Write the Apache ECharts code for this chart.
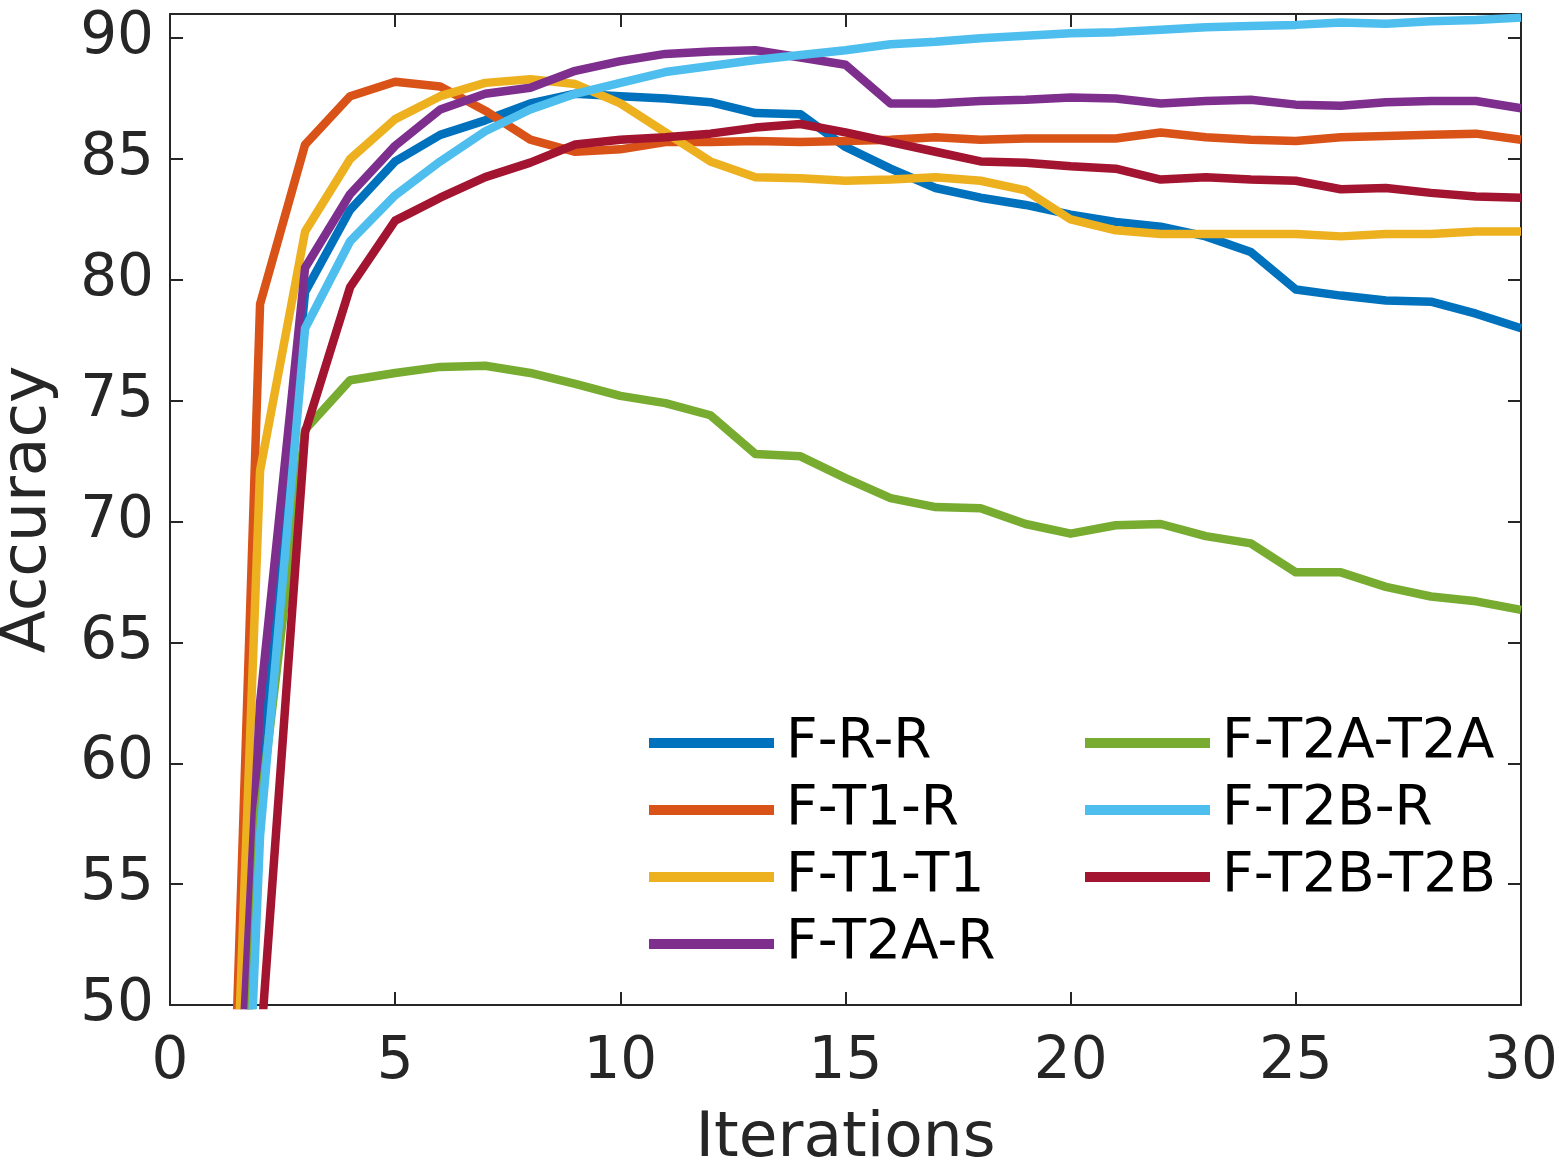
<!DOCTYPE html>
<html>
<head>
<meta charset="utf-8">
<title>Accuracy vs Iterations</title>
<script src="https://cdn.jsdelivr.net/npm/echarts@6/dist/echarts.min.js"></script>
<style>
  html, body { margin: 0; padding: 0; background: #fff; }
  #chart { width: 1559px; height: 1160px; }
</style>
</head>
<body>
<div id="chart"></div>
<script>
// iterations 1..30
const iterations = [1, 2, 3, 4, 5, 6, 7, 8, 9, 10, 11, 12, 13, 14, 15, 16, 17, 18, 19, 20, 21, 22, 23, 24, 25, 26, 27, 28, 29, 30];

// accuracy per method
const fRR      = [20, 60, 79.5, 82.9, 84.9, 86.0, 86.6, 87.3, 87.7, 87.6, 87.5, 87.35, 86.9, 86.85, 85.5, 84.6, 83.8, 83.4, 83.1, 82.7, 82.4, 82.2, 81.8, 81.15, 79.6, 79.35, 79.15, 79.1, 78.6, 78.0];
const fT1R     = [21.6, 79.0, 85.6, 87.6, 88.2, 88.0, 87.0, 85.8, 85.3, 85.4, 85.7, 85.7, 85.75, 85.7, 85.75, 85.8, 85.9, 85.8, 85.85, 85.85, 85.85, 86.1, 85.9, 85.8, 85.75, 85.9, 85.95, 86.0, 86.05, 85.8];
const fT1T1    = [22.4, 72.1, 82.0, 85.0, 86.65, 87.6, 88.15, 88.3, 88.1, 87.3, 86.1, 84.9, 84.25, 84.2, 84.1, 84.15, 84.25, 84.1, 83.7, 82.5, 82.05, 81.9, 81.9, 81.9, 81.9, 81.8, 81.9, 81.9, 82.0, 82.0];
const fT2AR    = [25, 62.5, 80.5, 83.55, 85.55, 87.05, 87.7, 87.95, 88.65, 89.05, 89.35, 89.45, 89.5, 89.2, 88.9, 87.3, 87.3, 87.4, 87.45, 87.55, 87.5, 87.3, 87.4, 87.45, 87.25, 87.2, 87.35, 87.4, 87.4, 87.1];
const fT2AT2A  = [15, 58, 73.8, 75.85, 76.15, 76.4, 76.45, 76.15, 75.7, 75.2, 74.9, 74.4, 72.8, 72.7, 71.8, 70.97, 70.6, 70.55, 69.9, 69.5, 69.85, 69.9, 69.4, 69.1, 67.9, 67.9, 67.3, 66.9, 66.7, 66.35];
const fT2BR    = [13, 57, 78.0, 81.6, 83.5, 84.9, 86.15, 87.05, 87.7, 88.15, 88.6, 88.85, 89.1, 89.3, 89.5, 89.75, 89.85, 90.0, 90.1, 90.2, 90.25, 90.35, 90.45, 90.5, 90.55, 90.65, 90.6, 90.7, 90.75, 90.85];
const fT2BT2B  = [15, 48, 73.7, 79.7, 82.45, 83.4, 84.25, 84.85, 85.6, 85.8, 85.9, 86.05, 86.3, 86.45, 86.1, 85.7, 85.3, 84.9, 84.85, 84.7, 84.6, 84.15, 84.25, 84.15, 84.1, 83.75, 83.8, 83.6, 83.45, 83.4];

const seriesNames = ['F-R-R', 'F-T1-R', 'F-T1-T1', 'F-T2A-R', 'F-T2A-T2A', 'F-T2B-R', 'F-T2B-T2B'];
const seriesValues = [fRR, fT1R, fT1T1, fT2AR, fT2AT2A, fT2BR, fT2BT2B];
const seriesColors = ['#0072BD', '#D95319', '#EDB120', '#7E2F8E', '#77AC30', '#4DBEEE', '#A2142F'];

const xTicks = [0, 5, 10, 15, 20, 25, 30];
const yTicks = [50, 55, 60, 65, 70, 75, 80, 85, 90];

const FONT = 'DejaVu Sans';
const AXIS_COLOR = '#262626';

const chart = echarts.init(document.getElementById('chart'));

function makeAxis(extra) {
    return Object.assign({
        type: 'value',
        axisLine: { show: true, onZero: false, lineStyle: { color: AXIS_COLOR, width: 2 } },
        axisTick: { show: true, inside: true, length: 13, lineStyle: { color: AXIS_COLOR, width: 2 } },
        splitLine: { show: false },
        axisLabel: { show: false }
    }, extra);
}

const legendText = { color: '#000', fontFamily: FONT, fontSize: 55, lineHeight: 60, padding: [0, 0, 0, 7] };

const option = {
    animation: false,
    backgroundColor: '#fff',
    grid: { left: 170, right: 38, top: 14, bottom: 155, containLabel: false, outerBoundsMode: 'none' },
    xAxis: [
        makeAxis({
            position: 'bottom',
            min: xTicks[0], max: xTicks[xTicks.length - 1], interval: 5,
            axisLabel: { show: true, color: AXIS_COLOR, fontFamily: FONT, fontSize: 58, margin: 29 },
            name: 'Iterations', nameLocation: 'middle', nameGap: 103,
            nameTextStyle: { color: AXIS_COLOR, fontFamily: FONT, fontSize: 63 }
        }),
        makeAxis({ position: 'top', min: xTicks[0], max: xTicks[xTicks.length - 1], interval: 5 })
    ],
    yAxis: [
        makeAxis({
            position: 'left',
            min: yTicks[0], max: 91, interval: 5,
            axisLabel: {
                show: true, color: AXIS_COLOR, fontFamily: FONT, fontSize: 58, margin: 16,
                formatter: function (v) { return yTicks.indexOf(v) >= 0 ? String(v) : ''; }
            },
            name: 'Accuracy', nameLocation: 'middle', nameGap: 110,
            nameTextStyle: { color: AXIS_COLOR, fontFamily: FONT, fontSize: 63 }
        }),
        makeAxis({ position: 'right', min: yTicks[0], max: 91, interval: 5 })
    ],
    legend: [
        {
            data: seriesNames.slice(0, 4),
            orient: 'vertical', left: 649, top: 713, padding: 0,
            icon: 'rect', itemWidth: 125, itemHeight: 10, itemGap: 7,
            textStyle: legendText
        },
        {
            data: seriesNames.slice(4),
            orient: 'vertical', left: 1085, top: 713, padding: 0,
            icon: 'rect', itemWidth: 125, itemHeight: 10, itemGap: 7,
            textStyle: legendText
        }
    ],
    series: seriesNames.map(function (name, i) {
        return {
            name: name,
            type: 'line',
            data: iterations.map(function (it, k) { return [it, seriesValues[i][k]]; }),
            showSymbol: false,
            symbol: 'none',
            clip: true,
            color: seriesColors[i],
            lineStyle: { color: seriesColors[i], width: 8.5, join: 'round' }
        };
    })
};

chart.setOption(option);
</script>
</body>
</html>
